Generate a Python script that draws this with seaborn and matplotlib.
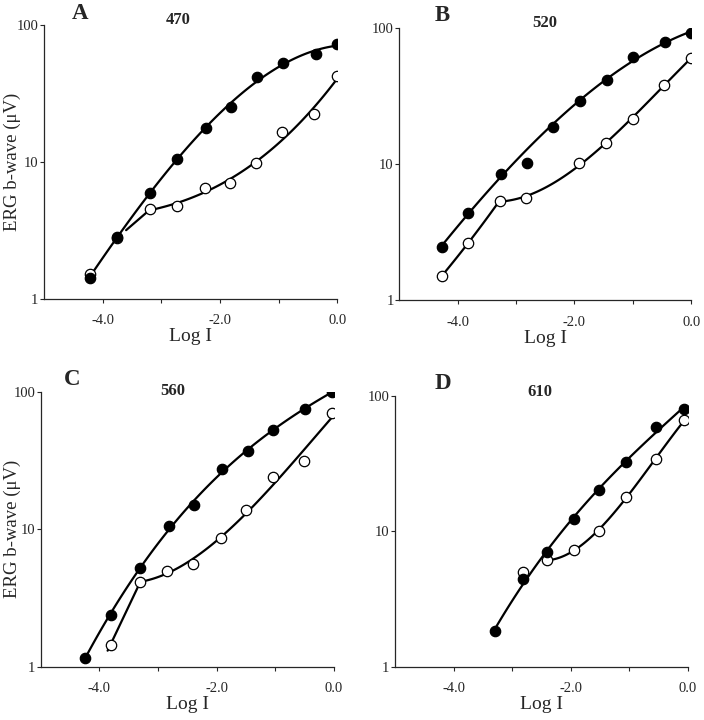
import numpy as np
import pandas as pd
import seaborn as sns
import matplotlib.pyplot as plt

# log intensity / b-wave amplitude (uV)
a_x_dark = [-4.22, -3.76, -3.19, -2.73, -2.24, -1.81, -1.37, -0.92, -0.37, 0.0]
a_y_dark = [1.43, 2.85, 5.9, 10.6, 17.8, 25.4, 42.0, 52.5, 62.0, 72.6]
a_x_open = [-4.22, -3.76, -3.19, -2.74, -2.26, -1.82, -1.38, -0.94, -0.39, 0.0]
a_y_open = [1.51, 2.77, 4.5, 4.8, 6.5, 7.0, 9.8, 16.5, 22.4, 42.5]

b_x_dark = [-4.27, -3.82, -3.26, -2.81, -2.36, -1.90, -1.45, -0.99, -0.45, 0.0]
b_y_dark = [2.45, 4.4, 8.5, 10.2, 18.7, 29.0, 41.6, 61.6, 78.5, 92.5]
b_x_open = [-4.27, -3.82, -3.28, -2.83, -1.92, -1.46, -1.0, -0.46, 0.0]
b_y_open = [1.51, 2.63, 5.4, 5.6, 10.2, 14.3, 21.6, 38.4, 60.5]

c_x_dark = [-4.25, -3.81, -3.30, -2.82, -2.39, -1.91, -1.47, -1.03, -0.49, -0.03]
c_y_dark = [1.16, 2.36, 5.2, 10.5, 14.9, 27.5, 37.2, 52.6, 74.8, 100.0]
c_x_open = [-3.81, -3.30, -2.84, -2.40, -1.93, -1.49, -1.04, -0.51, -0.03]
c_y_open = [1.45, 4.15, 5.0, 5.6, 8.6, 13.7, 23.8, 31.3, 69.5]

d_x_dark = [-3.29, -2.82, -2.40, -1.95, -1.51, -1.06, -0.54, -0.06]
d_y_dark = [1.83, 4.45, 7.05, 12.4, 20.1, 32.5, 58.6, 80.3]
d_x_open = [-2.82, -2.40, -1.95, -1.51, -1.06, -0.54, -0.06]
d_y_open = [4.98, 6.1, 7.3, 10.1, 18.0, 34.5, 66.2]

# fitted curve pieces: (first idx, last idx, degree, skipped idx, draw from x)
panels = [
    ("A", "470", a_x_dark, a_y_dark, [(0, 9, 3, [], None)],
     a_x_open, a_y_open, [(1, 2, 1, [], -3.6), (2, 9, 3, [], None)]),
    ("B", "520", b_x_dark, b_y_dark, [(0, 9, 3, [3], None)],
     b_x_open, b_y_open, [(0, 2, 2, [], None), (2, 8, 3, [], None)]),
    ("C", "560", c_x_dark, c_y_dark, [(0, 9, 3, [], None)],
     c_x_open, c_y_open, [(0, 1, 1, [], -3.86), (1, 8, 3, [], None)]),
    ("D", "610", d_x_dark, d_y_dark, [(0, 7, 3, [], None)],
     d_x_open, d_y_open, [(1, 6, 3, [], None)]),
]

boxes = [
    [0.0625, 0.585, 0.4165, 0.380],
    [0.567, 0.583, 0.415, 0.378],
    [0.058, 0.074, 0.416, 0.382],
    [0.561, 0.074, 0.416, 0.376],
]
letter_pos = [(0.123, 1.044), (0.147, 1.048), (0.106, 1.044), (0.164, 1.048)]
title_pos = [(0.457, 1.018), (0.50, 1.018), (0.45, 1.004), (0.495, 1.015)]
ylab_x = [-0.077, None, -0.067, None]

sns.set_style("ticks")
plt.rcParams['font.family'] = ['Liberation Serif', 'DejaVu Serif']

fig = plt.figure(figsize=(7.04, 7.2), dpi=100)


def fit_piece(xs, ys, piece):
    i0, i1, deg, skip, x0 = piece
    idx = [k for k in range(i0, i1 + 1) if k not in skip]
    px = np.array([xs[k] for k in idx])
    py = np.log10([ys[k] for k in idx])
    coef = np.polyfit(px, py, deg)
    lo = xs[i0] if x0 is None else x0
    xx = np.linspace(lo, xs[i1], 100)
    return pd.DataFrame({"x": xx, "y": 10 ** np.polyval(coef, xx)})


for i, (letter, wl, xd, yd, pd_, xo, yo, po) in enumerate(panels):
    ax = fig.add_axes(boxes[i])
    for xs, ys, pieces in ((xd, yd, pd_), (xo, yo, po)):
        for piece in pieces:
            curve = fit_piece(xs, ys, piece)
            sns.lineplot(data=curve, x="x", y="y", ax=ax, color="black",
                         lw=1.6, sort=False)
    df_d = pd.DataFrame({"x": xd, "y": yd})
    df_o = pd.DataFrame({"x": xo, "y": yo})
    sns.scatterplot(data=df_o, x="x", y="y", ax=ax, s=56, color="white",
                    edgecolor="black", linewidth=0.9, zorder=3)
    sns.scatterplot(data=df_d, x="x", y="y", ax=ax, s=56, color="black",
                    edgecolor="black", linewidth=0.9, zorder=4)
    ax.set_yscale("log")
    ax.set_ylim(1, 100)
    ax.set_xlim(-5, 0)
    ax.set_yticks([1, 10, 100])
    ax.set_yticklabels(["1", "10", "100"])
    ax.minorticks_off()
    ax.set_xticks([-4, -3, -2, -1, 0])
    ax.set_xticklabels(["-4.0", "", "-2.0", "", "0.0"])
    ax.tick_params(axis="both", labelsize=10.5, length=3, width=0.8)
    ax.tick_params(axis="x", pad=8)
    ax.tick_params(axis="y", pad=1)
    sns.despine(ax=ax)
    for s in ("left", "bottom"):
        ax.spines[s].set_linewidth(0.9)
    ax.set_xlabel("Log I", fontsize=14, labelpad=1)
    if ylab_x[i] is not None:
        ax.set_ylabel("ERG b-wave (μV)", fontsize=13.5)
        ax.yaxis.set_label_coords(ylab_x[i], 0.5)
    else:
        ax.set_ylabel("")
    ax.text(*letter_pos[i], letter, transform=ax.transAxes, fontsize=16.5,
            fontweight="bold", ha="center", va="center")
    ax.text(*title_pos[i], wl, transform=ax.transAxes, fontsize=12,
            fontweight="bold", ha="center", va="center")

fig.savefig("out.png", dpi=100)
